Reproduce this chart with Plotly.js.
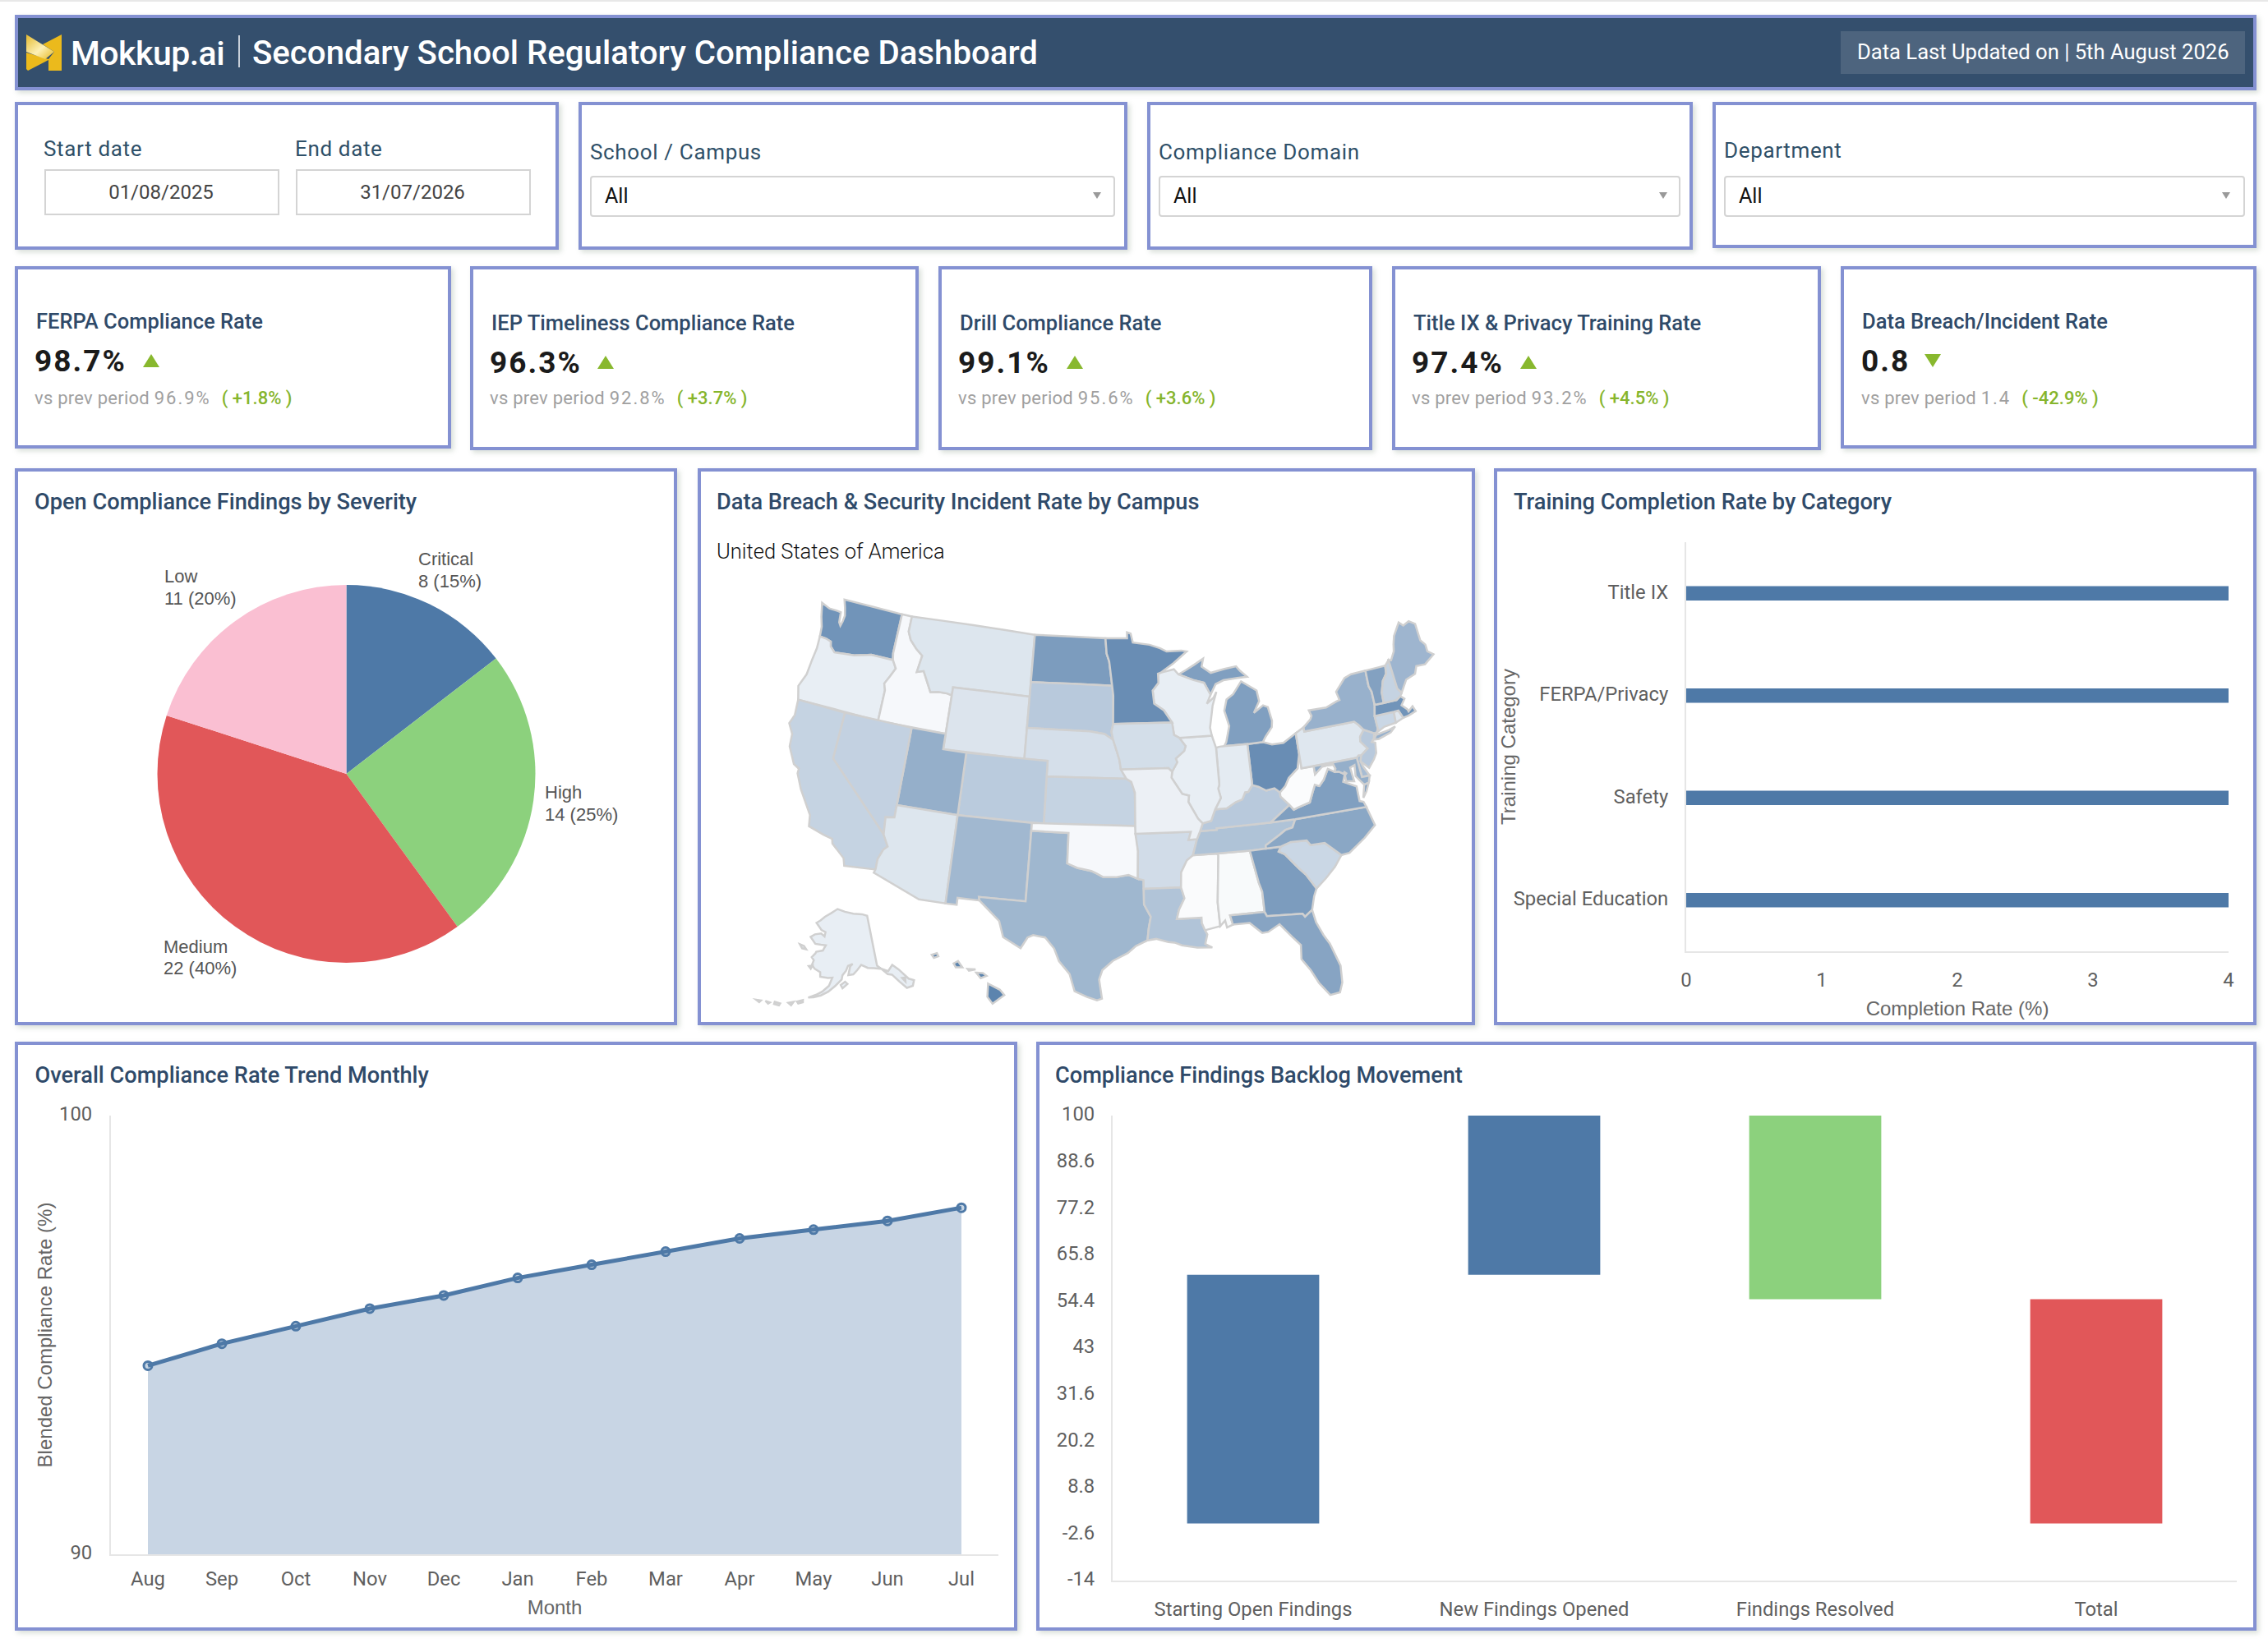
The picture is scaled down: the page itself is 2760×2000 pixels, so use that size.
<!DOCTYPE html>
<html><head><meta charset="utf-8">
<script src="https://cdn.plot.ly/plotly-3.0.1.min.js"></script>
<style>
html,body{margin:0;padding:0;background:#fff;width:2760px;height:2000px;overflow:hidden;font-family:Roboto,sans-serif}
.abs{position:absolute;white-space:nowrap;line-height:1}
.card{position:absolute;box-sizing:border-box;border:4px solid #8491d2;background:#fff;box-shadow:3px 3px 6px rgba(120,140,120,.28)}
.ct{color:#2f4a69;font-weight:500;font-size:27.2px;transform:translateY(-50%)}
.flab{color:#2f5068;font-size:26px;letter-spacing:.65px;transform:translateY(-50%)}
.inp{position:absolute;box-sizing:border-box;border:2px solid #d4d4d4;background:#fff}
.tm{color:#444;font-size:24px;transform:translate(-50%,-50%)}
.all{color:#111;font-size:25px;transform:translateY(-50%)}
.kt{color:#2f4a69;font-weight:500;font-size:25.5px;transform:translateY(-50%)}
.kv{color:#1b1b1b;font-weight:700;font-size:37px;letter-spacing:2px;transform:translateY(-50%)}
.ks{color:#a0a0a0;font-size:22px;letter-spacing:.25px;transform:translateY(-50%)}
.ks span{letter-spacing:2px}
.kd{color:#86b52c;font-size:22px;font-weight:500;transform:translateY(-50%)}
.plot{position:absolute}
</style></head><body>
<div style="position:absolute;left:0;top:0;width:2760px;height:2px;background:#e8e8e8"></div>
<div id="root"></div>
<script>
// ---------- data ----------
const dashboardTitle = "Secondary School Regulatory Compliance Dashboard";
const lastUpdated = "Data Last Updated on | 5th August 2026";
const kpiNames = ["FERPA Compliance Rate","IEP Timeliness Compliance Rate","Drill Compliance Rate","Title IX & Privacy Training Rate","Data Breach/Incident Rate"];
const kpiValues = ["98.7%","96.3%","99.1%","97.4%","0.8"];
const kpiPrev = ["96.9%","92.8%","95.6%","93.2%","1.4"];
const kpiDelta = ["+1.8%","+3.7%","+3.6%","+4.5%","-42.9%"];
const kpiUp = [true,true,true,true,false];

const severityLabels = ["Critical","High","Medium","Low"];
const severityValues = [8,14,22,11];
const severityShares = ["15%","25%","40%","20%"];
const severityColors = ["#4E79A7","#8CD17D","#E15759","#FABFD2"];

const stateCodes = ["WA","OR","ID","MT","WY","ND","SD","NE","KS","CO","UT","NV","CA","AZ","NM","TX","OK","AR","LA","MS","AL","TN","KY","GA","FL","SC","NC","VA","WV","OH","MI","IN","IL","WI","MN","IA","MO","PA","NY","NJ","DE","MD","DC","CT","RI","MA","VT","NH","ME","AK","HI"];
const stateRates = [0.80,0.13,0.05,0.19,0.20,0.74,0.40,0.24,0.33,0.39,0.60,0.34,0.33,0.19,0.53,0.54,0.05,0.26,0.44,0.03,0.04,0.45,0.40,0.74,0.68,0.30,0.66,0.72,0.02,0.85,0.72,0.15,0.13,0.13,0.85,0.25,0.11,0.18,0.58,0.40,0.50,0.60,0.50,0.30,0.18,0.80,0.70,0.33,0.55,0.13,0.92];

const trainingCats = ["Special Education","Safety","FERPA/Privacy","Title IX"];
const trainingRates = [4,4,4,4];

const months = ["Aug","Sep","Oct","Nov","Dec","Jan","Feb","Mar","Apr","May","Jun","Jul"];
const complianceRates = [94.3,94.8,95.2,95.6,95.9,96.3,96.6,96.9,97.2,97.4,97.6,97.9];

const backlogSteps = ["Starting Open Findings","New Findings Opened","Findings Resolved","Total"];
const backlogDeltas = [61,39,-45,55];
const backlogMeasures = ["relative","relative","relative","total"];
const backlogTicks = [100,88.6,77.2,65.8,54.4,43,31.6,20.2,8.8,-2.6,-14];

// Simplified state outlines (lon,lat rings), handed to Plotly as its base-map data.
const stateOutlines = {
WA:[[[-124.73,48.38],[-123.9,48.17],[-123.1,48.17],[-122.76,48.14],[-122.65,47.5],[-122.45,47.3],[-122.35,47.6],[-122.3,48.0],[-122.5,48.5],[-122.76,49],[-117.03,49],[-117.04,46.42],[-116.92,45.995],[-118.98,46],[-119.3,45.93],[-120.5,45.7],[-121.2,45.65],[-122.3,45.55],[-122.78,45.85],[-122.9,46.15],[-123.4,46.25],[-124,46.27],[-124.1,46.9],[-124.4,47.5]]],
OR:[[[-124,46.27],[-123.4,46.25],[-122.9,46.15],[-122.78,45.85],[-122.3,45.55],[-121.2,45.65],[-120.5,45.7],[-119.3,45.93],[-118.98,46],[-116.92,45.995],[-116.5,45.5],[-116.85,44.95],[-117.22,44.4],[-117.03,44],[-117.03,42],[-124.21,42],[-124.55,42.84],[-124.15,43.7],[-124.06,44.7],[-123.95,45.5]]],
ID:[[[-117.03,49],[-116.05,49],[-116.05,48],[-115.7,47.5],[-115,47],[-114.35,46.65],[-114.55,45.56],[-113.95,45.7],[-113.45,45.05],[-113,44.45],[-112.3,44.55],[-111.5,44.55],[-111.05,44.48],[-111.05,42],[-117.03,42],[-117.03,44],[-117.22,44.4],[-116.85,44.95],[-116.5,45.5],[-116.92,45.995],[-117.04,46.42]]],
MT:[[[-116.05,49],[-104.05,49],[-104.05,45],[-111.05,45],[-111.05,44.48],[-111.5,44.55],[-112.3,44.55],[-113,44.45],[-113.45,45.05],[-113.95,45.7],[-114.55,45.56],[-114.35,46.65],[-115,47],[-115.7,47.5],[-116.05,48]]],
WY:[[[-111.05,45],[-104.05,45],[-104.05,41],[-111.05,41]]],
ND:[[[-104.05,49],[-97.23,49],[-97.1,48],[-96.85,47.5],[-96.56,45.94],[-104.05,45.94]]],
SD:[[[-104.05,45.94],[-96.56,45.94],[-96.45,45.3],[-96.45,43.5],[-96.6,43],[-96.45,42.49],[-97.2,42.85],[-98.5,43],[-104.05,43]]],
NE:[[[-104.05,43],[-98.5,43],[-97.2,42.85],[-96.45,42.49],[-96.1,41.7],[-95.9,41.2],[-95.77,40.59],[-95.31,40],[-102.05,40],[-102.05,41],[-104.05,41]]],
KS:[[[-102.05,40],[-95.31,40],[-94.9,39.8],[-94.61,39.11],[-94.62,37],[-102.04,37]]],
CO:[[[-109.05,41],[-102.05,41],[-102.04,37],[-109.05,37]]],
UT:[[[-114.05,42],[-111.05,42],[-111.05,41],[-109.05,41],[-109.05,37],[-114.05,37]]],
NV:[[[-120,42],[-114.05,42],[-114.05,36.2],[-114.75,36.1],[-114.63,35],[-120,39]]],
CA:[[[-124.21,42],[-120,42],[-120,39],[-114.63,35],[-114.14,34.3],[-114.43,34.05],[-114.72,33.4],[-114.72,32.72],[-117.12,32.53],[-117.3,33],[-118.4,33.75],[-118.5,34.03],[-119.2,34.15],[-120.5,34.45],[-120.65,35.15],[-121.9,36.6],[-122.5,37.5],[-122.5,37.8],[-123,38],[-123.75,39],[-123.85,39.8],[-124.35,40.4],[-124.1,41]]],
AZ:[[[-114.05,37],[-109.05,37],[-109.05,31.33],[-111.07,31.33],[-114.8,32.5],[-114.72,32.72],[-114.72,33.4],[-114.43,34.05],[-114.14,34.3],[-114.63,35],[-114.75,36.1],[-114.05,36.2]]],
NM:[[[-109.05,37],[-103,37],[-103.04,32],[-106.6,32],[-106.53,31.78],[-108.2,31.78],[-108.2,31.33],[-109.05,31.33]]],
OK:[[[-103,37],[-94.62,37],[-94.43,35.4],[-94.48,33.64],[-95.2,33.9],[-96.2,33.75],[-97.15,33.75],[-97.7,33.98],[-98.1,34.13],[-99.2,34.3],[-100,34.56],[-100,36.5],[-103,36.5]]],
TX:[[[-103,36.5],[-100,36.5],[-100,34.56],[-99.2,34.3],[-98.1,34.13],[-97.7,33.98],[-97.15,33.75],[-96.2,33.75],[-95.2,33.9],[-94.48,33.64],[-94.04,33.55],[-94.04,33],[-94.04,32],[-93.55,31.2],[-93.72,30.5],[-93.84,29.7],[-94.7,29.35],[-95.3,28.9],[-96.4,28.4],[-97.15,27.8],[-97.37,27.2],[-97.15,25.96],[-97.5,25.85],[-98.2,26.05],[-99.1,26.4],[-99.5,27.5],[-100.3,28.3],[-100.7,29.1],[-101.4,29.77],[-102.3,29.88],[-102.7,29.7],[-103.15,28.98],[-104.5,29.6],[-104.9,30.6],[-106.53,31.78],[-106.6,32],[-103.04,32]]],
AR:[[[-94.62,36.5],[-90.15,36.5],[-90.37,35.99],[-89.7,36],[-90.1,35.0],[-90.6,34.7],[-91.1,33.95],[-91.17,33],[-94.04,33],[-94.04,33.55],[-94.48,33.64],[-94.43,35.4]]],
MO:[[[-95.77,40.59],[-91.73,40.61],[-91.42,40.38],[-91.5,40],[-90.67,38.93],[-90.12,38.8],[-90.2,38.4],[-89.5,37.3],[-89.15,36.98],[-89.4,36.5],[-89.7,36],[-90.37,35.99],[-90.15,36.5],[-94.62,36.5],[-94.62,37],[-94.61,39.11],[-94.9,39.8],[-95.31,40]]],
IA:[[[-96.45,43.5],[-91.22,43.5],[-91.1,42.7],[-90.65,42.5],[-90.15,41.95],[-90.3,41.65],[-91.05,41.2],[-90.95,40.95],[-91.42,40.38],[-91.73,40.61],[-95.77,40.59],[-95.9,41.2],[-96.1,41.7],[-96.45,42.49],[-96.6,43]]],
MN:[[[-97.23,49],[-95.15,49],[-95.15,49.38],[-94.8,49.3],[-94.6,48.72],[-93,48.55],[-92,48.3],[-91.4,48.07],[-90,48.08],[-89.5,48],[-90.8,47.3],[-92.05,46.72],[-92.3,46.66],[-92.29,46.07],[-92.85,45.6],[-92.75,44.75],[-91.9,44.3],[-91.22,43.5],[-96.45,43.5],[-96.45,45.3],[-96.56,45.94],[-96.85,47.5],[-97.1,48]]],
WI:[[[-92.05,46.72],[-90.8,46.9],[-90.4,46.55],[-89.1,46.14],[-88.1,45.9],[-87.6,45.1],[-88,44.55],[-87.35,44.9],[-87.05,45.25],[-87.5,44.4],[-87.7,43.7],[-87.9,43],[-87.8,42.49],[-90.65,42.5],[-91.1,42.7],[-91.22,43.5],[-91.9,44.3],[-92.75,44.75],[-92.85,45.6],[-92.29,46.07],[-92.3,46.66]]],
IL:[[[-90.65,42.5],[-87.8,42.49],[-87.53,41.7],[-87.53,39.35],[-87.65,39.1],[-87.5,38.5],[-88.05,37.8],[-88.45,37.1],[-89.15,36.98],[-89.5,37.3],[-90.2,38.4],[-90.12,38.8],[-90.67,38.93],[-91.5,40],[-91.42,40.38],[-90.95,40.95],[-91.05,41.2],[-90.3,41.65],[-90.15,41.95]]],
IN:[[[-87.53,41.7],[-87.2,41.75],[-86.8,41.76],[-84.8,41.73],[-84.8,39.1],[-85.2,38.7],[-85.45,38.7],[-85.75,38.27],[-86.3,38.15],[-87.1,37.8],[-88.05,37.8],[-87.5,38.5],[-87.65,39.1],[-87.53,39.35]]],
OH:[[[-84.8,41.73],[-83.45,41.73],[-82.7,41.5],[-81.7,41.5],[-80.52,41.98],[-80.52,40.64],[-80.85,39.75],[-81.7,39.25],[-82.1,38.75],[-82.6,38.42],[-83,38.72],[-83.7,38.65],[-84.3,38.95],[-84.8,39.1]]],
KY:[[[-89.4,36.5],[-89.15,36.98],[-88.45,37.1],[-88.05,37.8],[-87.1,37.8],[-86.3,38.15],[-85.75,38.27],[-85.45,38.7],[-85.2,38.7],[-84.8,39.1],[-84.3,38.95],[-83.7,38.65],[-83,38.72],[-82.6,38.42],[-82.6,38.15],[-81.97,37.54],[-83.68,36.6],[-88.07,36.6],[-88.07,36.5]]],
TN:[[[-90.1,35],[-89.7,36],[-89.4,36.5],[-88.07,36.5],[-88.07,36.6],[-83.68,36.6],[-81.68,36.59],[-82,36.1],[-82.6,36],[-83.1,35.75],[-84.3,35.2],[-84.32,34.99],[-85.6,34.98],[-88.2,35]]],
MS:[[[-91.17,33],[-91.1,33.95],[-90.6,34.7],[-90.1,35],[-88.2,35],[-88.1,34.9],[-88.45,31.9],[-88.4,30.37],[-89.55,30.18],[-89.75,30.65],[-89.75,31],[-91.6,31],[-91.4,31.6],[-90.95,32.3]]],
AL:[[[-88.2,35],[-85.6,34.98],[-85.18,32.87],[-85,32.3],[-85,31],[-87.6,31],[-87.45,30.4],[-87.9,30.25],[-88,30.7],[-88.4,30.37],[-88.45,31.9],[-88.1,34.9]]],
GA:[[[-85.6,34.98],[-84.32,34.99],[-83.11,35],[-83.35,34.7],[-82.9,34.48],[-82,33.5],[-81.5,33],[-80.87,32.03],[-81.15,31.55],[-81.45,30.72],[-82.05,30.36],[-82.2,30.57],[-84.86,30.71],[-85,31],[-85,32.3],[-85.18,32.87]]],
FL:[[[-87.6,31],[-85,31],[-84.86,30.71],[-82.2,30.57],[-82.05,30.36],[-81.45,30.72],[-81.3,29.9],[-80.9,29],[-80.55,28.4],[-80.05,26.9],[-80.13,25.8],[-80.4,25.2],[-81.1,25.13],[-81.75,26],[-82.2,26.9],[-82.75,27.7],[-82.65,28.6],[-83.2,29.2],[-84,30.1],[-84.9,29.7],[-85.35,29.68],[-86.2,30.4],[-87.45,30.4]]],
SC:[[[-83.11,35],[-82.3,35.2],[-81.04,35.15],[-80.8,34.82],[-79.67,34.8],[-78.55,33.86],[-79.2,33.2],[-80,32.6],[-80.87,32.03],[-81.5,33],[-82,33.5],[-82.9,34.48],[-83.35,34.7]]],
NC:[[[-84.32,34.99],[-84.3,35.2],[-83.1,35.75],[-82.6,36],[-82,36.1],[-81.68,36.59],[-75.87,36.55],[-75.5,35.3],[-76.5,34.65],[-77.9,33.9],[-78.55,33.86],[-79.67,34.8],[-80.8,34.82],[-81.04,35.15],[-82.3,35.2],[-83.11,35]]],
VA:[[[-83.68,36.6],[-81.97,37.54],[-81.68,37.2],[-81.3,37.3],[-80.3,37.5],[-80,38],[-79.65,38.55],[-79.3,38.42],[-78.85,38.77],[-78.35,39.4],[-77.83,39.13],[-77.5,39.1],[-77.05,38.85],[-77.3,38.4],[-76.3,37.95],[-76.3,37],[-76,36.9],[-75.87,36.55],[-81.68,36.59]],[[-75.95,37.15],[-75.65,37.95],[-75.25,38.03],[-75.6,37.5]]],
WV:[[[-82.6,38.42],[-82.1,38.75],[-81.7,39.25],[-80.85,39.75],[-80.52,40.64],[-80.52,39.72],[-79.48,39.72],[-79.48,39.2],[-78.8,39.6],[-78.4,39.62],[-77.83,39.6],[-77.72,39.32],[-77.83,39.13],[-78.35,39.4],[-78.85,38.77],[-79.3,38.42],[-79.65,38.55],[-80,38],[-80.3,37.5],[-81.3,37.3],[-81.68,37.2],[-81.97,37.54],[-82.6,38.15]]],
MD:[[[-79.48,39.72],[-75.79,39.72],[-75.7,38.46],[-75.05,38.45],[-75.25,38.03],[-75.65,37.95],[-75.95,38.3],[-76.2,38.6],[-76.1,39.3],[-76.5,39.2],[-76.4,38.3],[-77.05,38.4],[-77.05,38.85],[-77.5,39.1],[-77.83,39.13],[-77.72,39.32],[-77.83,39.6],[-78.4,39.62],[-78.8,39.6],[-79.48,39.2]]],
DE:[[[-75.79,39.72],[-75.6,39.83],[-75.4,39.8],[-75.55,39.45],[-75.4,39.05],[-75.05,38.45],[-75.7,38.46]]],
DC:[[[-77.12,38.93],[-77.04,39],[-76.91,38.89],[-77.04,38.79]]],
PA:[[[-80.52,41.98],[-79.76,42.27],[-79.76,42],[-75.35,42],[-75.05,41.75],[-74.7,41.36],[-75.13,40.98],[-75.2,40.69],[-74.72,40.15],[-75.4,39.8],[-75.6,39.83],[-75.79,39.72],[-80.52,39.72],[-80.52,40.64]]],
NJ:[[[-74.7,41.36],[-73.9,41],[-74,40.7],[-74.25,40.5],[-73.98,40.4],[-74.1,39.75],[-74.4,39.4],[-74.95,38.93],[-75.55,39.45],[-75.4,39.8],[-74.72,40.15],[-75.2,40.69],[-75.13,40.98]]],
NY:[[[-79.76,42.27],[-79.05,42.7],[-78.9,42.9],[-79.05,43.27],[-77.5,43.25],[-76.5,43.5],[-76.2,43.55],[-76.35,44.1],[-75.35,44.85],[-74.7,45],[-73.35,45.01],[-73.4,44],[-73.25,43.6],[-73.27,42.75],[-73.5,42.05],[-73.49,41.2],[-73.66,41],[-73.9,41],[-74.7,41.36],[-75.05,41.75],[-75.35,42],[-79.76,42]],[[-74.03,40.6],[-73.75,40.87],[-72.6,40.98],[-72,41.1],[-72.5,40.8],[-73.6,40.58]]],
CT:[[[-73.5,42.05],[-71.8,42.02],[-71.86,41.32],[-72.9,41.25],[-73.66,41],[-73.49,41.2]]],
RI:[[[-71.8,42.02],[-71.38,42.02],[-71.13,41.5],[-71.86,41.32]]],
MA:[[[-73.5,42.05],[-73.27,42.75],[-72.46,42.73],[-71.3,42.7],[-70.9,42.88],[-70.6,42.65],[-71,42.3],[-70.6,41.95],[-70.55,41.8],[-70.1,42.05],[-69.95,41.7],[-70.65,41.55],[-71.13,41.5],[-71.38,42.02],[-71.8,42.02]]],
VT:[[[-73.35,45.01],[-71.5,45.01],[-71.6,44.5],[-72.05,44.1],[-72.4,43.4],[-72.46,42.73],[-73.27,42.75],[-73.25,43.6],[-73.4,44]]],
NH:[[[-71.5,45.01],[-71.08,45.3],[-70.98,43.4],[-70.7,43.07],[-70.9,42.88],[-71.3,42.7],[-72.46,42.73],[-72.4,43.4],[-72.05,44.1],[-71.6,44.5]]],
ME:[[[-71.08,45.3],[-70.85,45.25],[-70.4,45.75],[-70.25,46.2],[-70,46.7],[-69.23,47.46],[-68.9,47.18],[-68.3,47.35],[-67.79,47.07],[-67.78,45.95],[-67.45,45.6],[-67.45,45.15],[-67,44.85],[-68,44.4],[-68.8,44.45],[-69.1,44],[-70,43.8],[-70.7,43.07],[-70.98,43.4]]],
MI:[[[-86.8,41.76],[-84.8,41.73],[-83.45,41.73],[-83.15,42.05],[-82.5,42.6],[-82.4,43],[-82.6,43.9],[-83,44.05],[-83.9,43.65],[-83.3,44.35],[-83.4,45.05],[-84.7,45.75],[-85.1,45.4],[-85.55,45],[-86.2,44.7],[-86.5,44],[-86.2,43],[-86.6,42]],[[-90.4,46.55],[-89.1,46.14],[-88.1,45.9],[-87.6,45.1],[-87.05,45.75],[-86.3,45.95],[-85,46],[-84.1,46],[-84.7,46.45],[-85,46.75],[-86.1,46.67],[-87.4,46.5],[-88.2,46.95],[-88,47.45],[-88.9,47.1],[-89.7,46.8]]],
LA:[[[-94.04,33],[-91.17,33],[-90.95,32.3],[-91.4,31.6],[-91.6,31],[-89.75,31],[-89.75,30.65],[-89.55,30.18],[-89.4,29.9],[-89.6,29.3],[-89.1,29.05],[-90.2,29.1],[-91.3,29.3],[-91.85,29.5],[-92.3,29.55],[-93.2,29.78],[-93.84,29.7],[-93.72,30.5],[-93.55,31.2],[-94.04,32]]],
AK:[[[-141,69.65],[-141,60.3],[-139.7,59.6],[-142.5,60],[-144.5,60.2],[-146.8,60.9],[-148.5,60],[-150,59.3],[-151.8,59.2],[-151,60.8],[-150,61.2],[-151.8,60.9],[-152.6,60],[-153.9,59.2],[-154.2,58.4],[-156.4,57.2],[-158.6,56.1],[-160.9,55.3],[-163.2,54.8],[-164.8,54.6],[-162.5,55.3],[-160.6,56],[-158.5,57.2],[-157.5,58.7],[-159,58.6],[-161.8,58.7],[-162,59.5],[-164.2,60],[-165.4,60.6],[-165,61.5],[-166,62],[-164.8,62.8],[-164.6,63.1],[-162,63.5],[-161,64.5],[-163,64.5],[-165.5,64.5],[-168.1,65.6],[-166.4,66.2],[-163.7,66.55],[-162,66.1],[-161.8,66.9],[-163.8,67.2],[-166.7,68.35],[-165,68.9],[-163,69.7],[-160,70.5],[-156.6,71.35],[-152.5,70.85],[-148,70.4],[-143.5,70.1]],
 [[-139.7,59.6],[-137.9,58.4],[-136.5,58.1],[-134.7,56.5],[-133,55],[-131,55],[-130,55.9],[-131.5,56.5],[-133.8,58.7],[-135.5,59.8],[-137.5,58.9]],
 [[-154.5,57.4],[-153,58],[-152.2,57.6],[-153.9,56.8]],[[-171.8,63.8],[-170,63.7],[-168.8,63.2],[-170.5,63.2]],[[-166.5,60.3],[-165.2,60.5],[-165.6,59.9]],[[-168,53.5],[-166.3,54],[-166.2,53.6],[-167.5,53.2]],[[-170.5,52.9],[-169,53.3],[-169.5,52.6]],[[-174.5,52.4],[-172.8,52.4],[-173,52],[-174.5,52]],[[-177.2,52],[-175.8,52],[-176.2,51.7]],[[-179.9,51.6],[-178.5,51.8],[-178.8,51.4]],[[-133.5,57],[-132.5,56.9],[-132.8,56.2]]],
HI:[[[-155.9,20.25],[-155.1,19.85],[-154.8,19.5],[-155.6,18.95],[-155.95,19.4]],[[-156.7,20.95],[-156.25,20.93],[-156,20.75],[-156.4,20.6]],[[-157.3,21.2],[-156.75,21.17],[-157.2,21.08]],[[-158.25,21.55],[-157.95,21.7],[-157.65,21.3],[-158.1,21.3]],[[-159.75,22.1],[-159.4,22.2],[-159.3,22],[-159.6,21.9]]]
};

// ---------- base map for Plotly (no network, so its geo asset is supplied here) ----------
(function(){
  const arcs=[], geometries=[];
  Object.keys(stateOutlines).forEach(id=>{
    const polys=stateOutlines[id].map(ring=>{
      let s=0; const r=ring.concat([ring[0]]);
      for(let i=0;i<r.length-1;i++) s+=(r[i+1][0]-r[i][0])*(r[i+1][1]+r[i][1]);
      const cw = s>0 ? r : r.slice().reverse();
      arcs.push(cw);
      return [[arcs.length-1]];
    });
    geometries.push({type:'MultiPolygon',id:id,properties:{ct:[0,0],gu:'USA',iso3cd:'USA'},arcs:polys});
  });
  const empty={type:'GeometryCollection',geometries:[]};
  const topo={type:'Topology',arcs:arcs,objects:{subunits:{type:'GeometryCollection',geometries:geometries},
    land:empty,ocean:empty,lakes:empty,rivers:empty,coastlines:empty,countries:empty,frame:empty}};
  window.PlotlyGeoAssets=window.PlotlyGeoAssets||{topojson:{}};
  window.PlotlyGeoAssets.topojson=window.PlotlyGeoAssets.topojson||{};
  window.PlotlyGeoAssets.topojson['usa_110m']=topo;
})();

// ---------- page chrome ----------
const root = document.getElementById('root');
function el(cls, style, html){const d=document.createElement('div');d.className=cls;d.style.cssText=style;if(html!==undefined)d.innerHTML=html;root.appendChild(d);return d;}
function box(x0,y0,x1,y1,extra){return `left:${x0}px;top:${y0}px;width:${x1-x0}px;height:${y1-y0}px;`+(extra||'');}
function txt(cls,x,y,s,extra){return el('abs '+cls,`left:${x}px;top:${y}px;`+(extra||''),s);}

// header
el('card',box(18,18,2746,110,'background:#344f6d;'));
el('abs',`left:32px;top:42px;`,`<svg width="44" height="44" viewBox="0 0 44 44"><defs><linearGradient id="g" x1="0" y1="0" x2="1" y2="1"><stop offset="0" stop-color="#e3b92e"/><stop offset=".55" stop-color="#fdf0b4"/><stop offset="1" stop-color="#e6b81f"/></linearGradient></defs><polygon points="0,22 27,30 27,31 2,44 0,42" fill="#ebba1c"/><polygon points="43,0 43,44 27,44 27,30 34,21 20,12" fill="#ebba1c"/><polygon points="0,0 34,21 23,30 0,21" fill="url(#g)"/></svg>`);
txt('','86','65',"Mokkup.ai",'color:#fff;font-size:41px;transform:translateY(-50%);font-weight:500;letter-spacing:-.5px;');
el('abs',box(290,43,292,82,'background:#c8d0da;'));
txt('','307','65',dashboardTitle,'color:#fff;font-size:40.2px;font-weight:500;transform:translateY(-50%);');
el('abs',box(2240,38,2732,90,'background:#4d647e;'));
txt('','2260','64',lastUpdated,'color:#fff;font-size:25.6px;transform:translateY(-50%);');

// filters
el('card',box(18,124,680,304));
txt('flab',53,181,"Start date"); txt('flab',359,181,"End date");
el('inp',box(54,206,340,262)); el('inp',box(360,206,646,262));
txt('tm',196,234,"01/08/2025"); txt('tm',502,234,"31/07/2026");
[[704,1372,304,718,1357,185,"School / Campus",736,1335],[1396,2060,304,1410,2045,185,"Compliance Domain",1428,2024],[2084,2746,302,2098,2732,183,"Department",2116,2709]].forEach(f=>{
  el('card',box(f[0],124,f[1],f[2]));
  txt('flab',f[3],f[5],f[6]);
  el('inp',box(f[3],214,f[4],264,'border-radius:4px;'));
  txt('all',f[7],238,"All");
  el('abs',`left:${f[8]-5}px;top:234px;width:0;height:0;border-left:5px solid transparent;border-right:5px solid transparent;border-top:8px solid #999;`);
});

// KPI cards
[[18,549,546,44,392,42,439,184],[572,1118,548,598,394,596,441,737],[1142,1670,548,1168,394,1166,441,1308],[1694,2216,548,1720,394,1718,441,1860],[2240,2746,546,2266,392,2265,439,2352]].forEach((k,i)=>{
  el('card',box(k[0],324,k[1],k[2]));
  txt('kt',k[3],k[4],kpiNames[i]);
  txt('kv',k[5],k[6],kpiValues[i]);
  const b=kpiUp[i]?'border-bottom':'border-top';
  el('abs',`left:${k[7]-10}px;top:${k[6]-8}px;width:0;height:0;border-left:10px solid transparent;border-right:10px solid transparent;${b}:16px solid #88b82e;`);
  const s=txt('ks',k[5],485,`vs prev period <span>${kpiPrev[i]}</span>`);
  const d=txt('kd',0,485,`( ${kpiDelta[i]} )`);
  d.style.left=(k[5]+s.getBoundingClientRect().width+13)+'px';
});

// chart cards
const cards={pie:[18,570,824,1248],map:[849,570,1795,1248],bar:[1818,570,2746,1248],area:[18,1268,1238,1985],wf:[1261,1268,2746,1985]};
Object.values(cards).forEach(c=>el('card',box(c[0],c[1],c[2],c[3])));
txt('ct',42,612,"Open Compliance Findings by Severity");
txt('ct',872,612,"Data Breach &amp; Security Incident Rate by Campus");
txt('ct',1842,612,"Training Completion Rate by Category");
txt('ct',42.5,1310,"Overall Compliance Rate Trend Monthly");
txt('ct',1284,1310,"Compliance Findings Backlog Movement");
txt('',872,671.5,"United States of America",'color:#111;font-size:25.5px;font-weight:300;transform:translateY(-50%);');

function plotDiv(c){const d=el('plot',box(c[0]+4,c[1]+4,c[2]-4,c[3]-4));return {d,w:c[2]-c[0]-8,h:c[3]-c[1]-8,x0:c[0]+4,y0:c[1]+4};}
function margins(p,x0,y0,x1,y1){return {l:x0-p.x0,r:p.x0+p.w-x1,t:y0-p.y0,b:p.y0+p.h-y1,pad:0,autoexpand:false};}
const cfg={displayModeBar:false,staticPlot:true,responsive:false};
const tick={family:'Roboto, sans-serif',size:23.8,color:'#5f5f5f'};
const axL={family:'"Liberation Sans", Arial, sans-serif',size:24,color:'#666'};
const base=p=>({width:p.w,height:p.h,paper_bgcolor:'rgba(0,0,0,0)',plot_bgcolor:'rgba(0,0,0,0)',showlegend:false});

// pie
(function(){
  const p=plotDiv(cards.pie);
  const cx=421.5,cy=942,r=230;
  const lpos=[[507,680.5,707],[661,964.5,991],[197,1152.5,1178.5],[198,702,728]];
  const ann=(s,x,y)=>({xref:'paper',yref:'paper',xanchor:'left',yanchor:'middle',align:'left',x:(x-p.x0)/p.w,y:1-(y-p.y0)/p.h,showarrow:false,text:s,
    font:{family:'"Liberation Sans", Arial, sans-serif',size:22,color:'#555'}});
  const anns=[];
  severityLabels.forEach((s,i)=>{anns.push(ann(s,lpos[i][0],lpos[i][1]));anns.push(ann(`${severityValues[i]} (${severityShares[i]})`,lpos[i][0],lpos[i][2]));});
  Plotly.newPlot(p.d,[{type:'pie',labels:severityLabels,values:severityValues,sort:false,direction:'clockwise',rotation:0,
    marker:{colors:severityColors,line:{width:0}},textinfo:'none',hoverinfo:'skip',
    domain:{x:[(cx-r-p.x0)/p.w,(cx+r-p.x0)/p.w],y:[1-(cy+r-p.y0)/p.h,1-(cy-r-p.y0)/p.h]}}],
   Object.assign(base(p),{margin:{l:0,r:0,t:0,b:0},annotations:anns}),cfg);
})();

// map
(function(){
  const p=plotDiv([853,700,1851,1246]);
  Plotly.newPlot(p.d,[{type:'choropleth',locationmode:'USA-states',locations:stateCodes,z:stateRates,zmin:0,zmax:1,
    colorscale:[[0,'#ffffff'],[1,'#4E79A7']],showscale:false,hoverinfo:'skip',marker:{line:{color:'#d0d0d0',width:2.5}}}],
   Object.assign(base(p),{margin:{l:0,r:0,t:0,b:0},
    geo:{scope:'usa',projection:{type:'albers usa'},bgcolor:'rgba(0,0,0,0)',showland:false,showlakes:false,showsubunits:false,showframe:false,showcoastlines:false}}),cfg);
})();

// bars
(function(){
  const p=plotDiv(cards.bar);
  Plotly.newPlot(p.d,[{type:'bar',orientation:'h',y:trainingCats,x:trainingRates,marker:{color:'#4E79A7'},width:0.141,hoverinfo:'skip'}],
   Object.assign(base(p),{margin:margins(p,2052,660,2712,1158),
    xaxis:{range:[0,4],dtick:1,showgrid:false,zeroline:false,showline:true,linecolor:'#e6e6e6',linewidth:2,tickfont:tick,ticks:'',ticklabelstandoff:12,
      title:{text:'Completion Rate (%)',font:axL,standoff:13.5}},
    yaxis:{type:'category',categoryorder:'array',categoryarray:trainingCats,range:[-0.5,3.5],showgrid:false,zeroline:false,showline:true,linecolor:'#e6e6e6',linewidth:2,tickfont:tick,ticks:'',ticklabelstandoff:15,ticklabelshift:-2,
      title:{text:'Training Category',font:axL,standoff:14}}}),cfg);
})();

// area
(function(){
  const p=plotDiv(cards.area);
  const common={x:months,y:complianceRates,hoverinfo:'skip',type:'scatter'};
  Plotly.newPlot(p.d,[
    Object.assign({},common,{mode:'none',fill:'tozeroy',fillcolor:'rgba(78,121,167,0.31)'}),
    Object.assign({},common,{mode:'markers',marker:{color:'#c8d6e4',size:10,line:{color:'#4E79A7',width:3}},cliponaxis:false}),
    Object.assign({},common,{mode:'lines',line:{color:'#4E79A7',width:5}})],
   Object.assign(base(p),{margin:margins(p,135,1358,1215,1892),
    xaxis:{type:'category',range:[-0.5,11.5],showgrid:false,zeroline:false,showline:true,linecolor:'#e6e6e6',linewidth:2,tickfont:tick,ticks:'',ticklabelstandoff:7,
      title:{text:'Month',font:axL,standoff:14}},
    yaxis:{range:[90,100],tickvals:[90,100],showgrid:false,zeroline:false,showline:true,linecolor:'#e6e6e6',linewidth:2,tickfont:tick,ticks:'',ticklabelstandoff:16,ticklabelshift:-2,
      title:{text:'Blended Compliance Rate (%)',font:axL,standoff:2}}}),cfg);
})();

// waterfall
(function(){
  const p=plotDiv(cards.wf);
  Plotly.newPlot(p.d,[{type:'waterfall',x:backlogSteps,y:backlogDeltas,measure:backlogMeasures,width:0.47,
    increasing:{marker:{color:'#4E79A7'}},decreasing:{marker:{color:'#8CD17D'}},totals:{marker:{color:'#E15759'}},connector:{visible:false},textinfo:'none',hoverinfo:'skip'}],
   Object.assign(base(p),{margin:margins(p,1354,1358,2722,1924),
    xaxis:{type:'category',range:[-0.5,3.5],showgrid:false,zeroline:false,showline:true,linecolor:'#e6e6e6',linewidth:2,tickfont:tick,ticks:'',ticklabelstandoff:12},
    yaxis:{range:[-14,100],tickvals:backlogTicks,ticktext:backlogTicks.map(String),showgrid:false,zeroline:false,showline:true,linecolor:'#e6e6e6',linewidth:2,tickfont:tick,ticks:'',ticklabelstandoff:15,ticklabelshift:-2}}),cfg);
})();
</script>
</body></html>
